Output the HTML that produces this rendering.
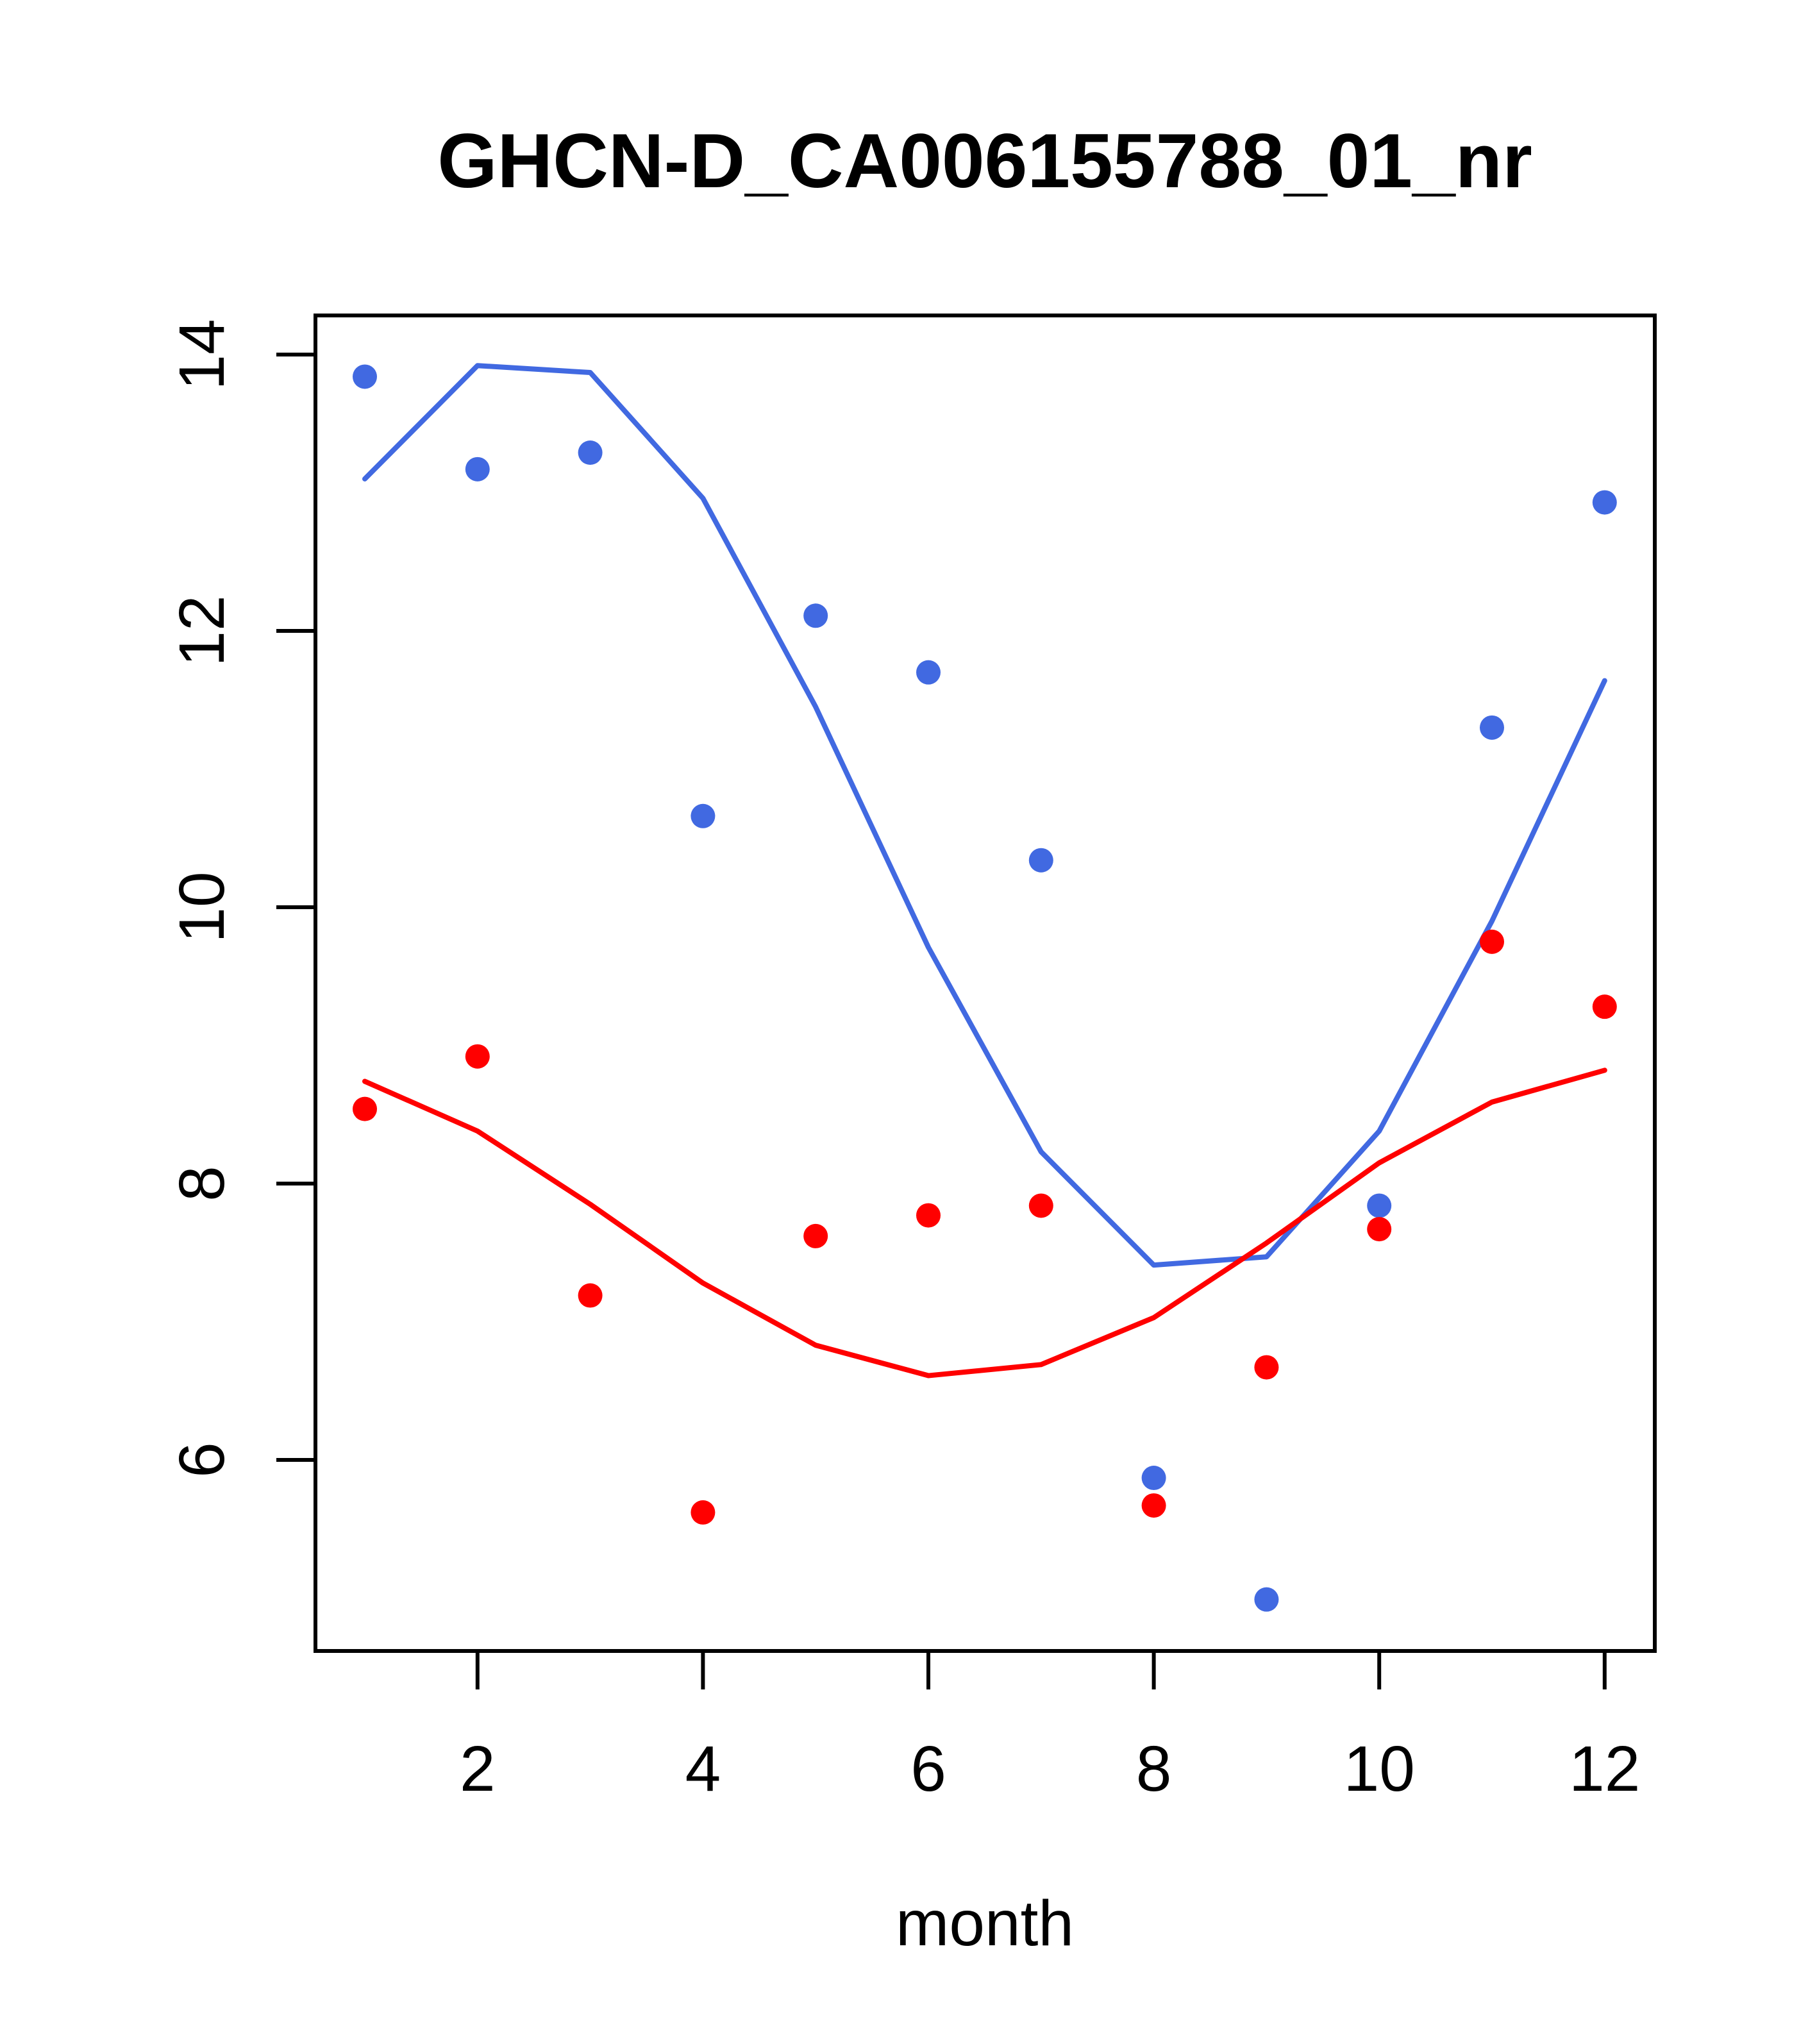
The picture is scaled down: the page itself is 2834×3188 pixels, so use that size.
<!DOCTYPE html>
<html><head><meta charset="utf-8"><style>
html,body{margin:0;padding:0;background:#fff;}
svg{display:block;font-family:"Liberation Sans",Arial,sans-serif;}
</style></head><body>
<svg id="chart" width="2834" height="3188" viewBox="0 0 2834 3188">
<rect x="0" y="0" width="2834" height="3188" fill="#fff"/>
<text x="1536" y="292" font-size="120" font-weight="bold" text-anchor="middle">GHCN-D_CA006155788_01_nr</text>
<rect x="492" y="492" width="2089" height="2083" fill="none" stroke="#000" stroke-width="6"/>
<g id="axes"></g>
<g id="series"></g>
<text x="1536" y="3034" font-size="100" text-anchor="middle">month</text>
</svg>
<script>
const months = [1,2,3,4,5,6,7,8,9,10,11,12];
const bluePoints = [13.84,13.17,13.29,10.66,12.11,11.70,10.34,5.87,4.99,7.84,11.30,12.93];
const blueLine = [13.10,13.92,13.87,12.96,11.45,9.71,8.23,7.41,7.47,8.38,9.90,11.64];
const redPoints = [8.54,8.92,7.19,5.62,7.62,7.77,7.84,5.67,6.67,7.67,9.75,9.28];
const redLine = [8.74,8.38,7.85,7.28,6.83,6.61,6.69,7.03,7.57,8.15,8.59,8.82];
const xTicks = [2,4,6,8,10,12];
const yTicks = [6,8,10,12,14];

const NS = "http://www.w3.org/2000/svg";
function xs(m){ return 569 + (m-1)*175.8; }
function ys(v){ return 553 + (14-v)*215.5; }
function mk(tag, attrs, parent){ const e=document.createElementNS(NS,tag); for(const k in attrs) e.setAttribute(k,attrs[k]); parent.appendChild(e); return e; }

const axes = document.getElementById('axes');
const series = document.getElementById('series');

const xl = mk('line',{x1:xs(xTicks[0]),x2:xs(xTicks[xTicks.length-1]),y1:2575,y2:2575,stroke:'#000','stroke-width':6},axes);


xTicks.forEach(t=>{
  const l = mk('line',{x1:xs(t),x2:xs(t),y1:2575,y2:2635,stroke:'#000','stroke-width':6},axes);
  
  
  const tx = mk('text',{x:xs(t),y:2793,'font-size':100,'text-anchor':'middle'},axes);
  tx.textContent = t;
  
  
});
const yl = mk('line',{x1:492,x2:492,y1:ys(yTicks[0]),y2:ys(yTicks[yTicks.length-1]),stroke:'#000','stroke-width':6},axes);


yTicks.forEach(t=>{
  const l = mk('line',{x1:431,x2:492,y1:ys(t),y2:ys(t),stroke:'#000','stroke-width':6},axes);
  
  
  const tx = mk('text',{x:0,y:0,'font-size':100,'text-anchor':'middle',transform:'translate(349,'+ys(t)+') rotate(-90)'},axes);
  tx.textContent = t;
  
  
});

function drawLine(vals, color, name){
  const p = mk('polyline',{points:vals.map((v,i)=>xs(months[i])+','+ys(v)).join(' '),fill:'none',stroke:color,'stroke-width':8,'stroke-linejoin':'round','stroke-linecap':'round'},series);
  
  
}
function drawPts(vals, color, name){
  vals.forEach((v,i)=>{
    const c = mk('circle',{cx:xs(months[i]),cy:ys(v),r:19,fill:color},series);
    
    
  });
}
drawLine(blueLine,'#4169E1','blue-fit-line');
drawLine(redLine,'#FF0000','red-fit-line');
drawPts(bluePoints,'#4169E1','blue-point');
drawPts(redPoints,'#FF0000','red-point');
</script>
</body></html>
